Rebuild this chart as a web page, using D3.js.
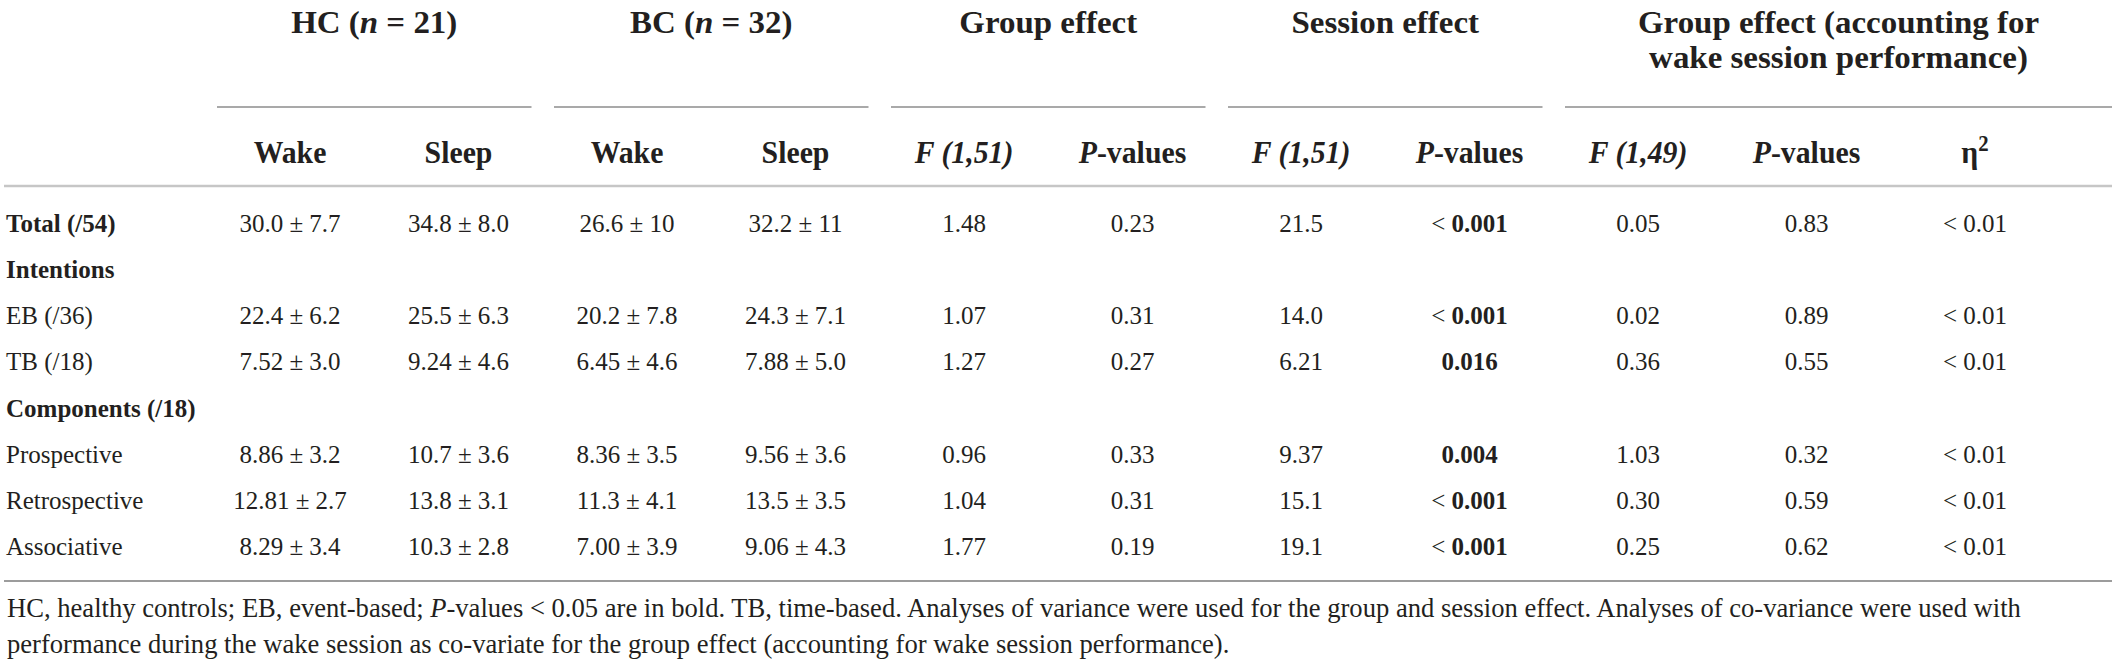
<!DOCTYPE html>
<meta charset="utf-8">
<style>
body { margin: 0; background: #fff; }
text {
  font-family: "Liberation Serif", "DejaVu Serif", serif;
  fill: #231f20;
}
.head { font-weight: bold; font-size: 32px; }
.cell { font-size: 25px; }
.note { font-size: 26.6px; }
</style>
<svg width="2117" height="665"></svg>
<script src="https://d3js.org/d3.v7.min.js"></script>
<script>

// column keys and their header labels (_x_ = italic, **x** = bold, ^x = superscript)
var columns = ["hcWake", "hcSleep", "bcWake", "bcSleep", "gF", "gP", "sF", "sP", "aF", "aP", "eta"];
var colLabels = ["Wake", "Sleep", "Wake", "Sleep", "_F (1,51)_", "_P_-values", "_F (1,51)_", "_P_-values", "_F (1,49)_", "_P_-values", "η^2"];

var groupLabels = [["HC (_n_ = 21)"], ["BC (_n_ = 32)"], ["Group effect"], ["Session effect"],
                   ["Group effect (accounting for", "wake session performance)"]];
var groupSpans = [[0, 1], [2, 3], [4, 5], [6, 7], [8, 10]];

var rowLabels = ["**Total (/54)**", "**Intentions**", "EB (/36)", "TB (/18)", "**Components (/18)**",
                 "Prospective", "Retrospective", "Associative"];

var hcWake  = ["30.0 ± 7.7", "", "22.4 ± 6.2", "7.52 ± 3.0", "", "8.86 ± 3.2", "12.81 ± 2.7", "8.29 ± 3.4"];
var hcSleep = ["34.8 ± 8.0", "", "25.5 ± 6.3", "9.24 ± 4.6", "", "10.7 ± 3.6", "13.8 ± 3.1", "10.3 ± 2.8"];
var bcWake  = ["26.6 ± 10", "", "20.2 ± 7.8", "6.45 ± 4.6", "", "8.36 ± 3.5", "11.3 ± 4.1", "7.00 ± 3.9"];
var bcSleep = ["32.2 ± 11", "", "24.3 ± 7.1", "7.88 ± 5.0", "", "9.56 ± 3.6", "13.5 ± 3.5", "9.06 ± 4.3"];
var groupF  = ["1.48", "", "1.07", "1.27", "", "0.96", "1.04", "1.77"];
var groupP  = ["0.23", "", "0.31", "0.27", "", "0.33", "0.31", "0.19"];
var sessF   = ["21.5", "", "14.0", "6.21", "", "9.37", "15.1", "19.1"];
var sessP   = ["< **0.001**", "", "< **0.001**", "**0.016**", "", "**0.004**", "< **0.001**", "< **0.001**"];
var adjF    = ["0.05", "", "0.02", "0.36", "", "1.03", "0.30", "0.25"];
var adjP    = ["0.83", "", "0.89", "0.55", "", "0.32", "0.59", "0.62"];
var eta2    = ["< 0.01", "", "< 0.01", "< 0.01", "", "< 0.01", "< 0.01", "< 0.01"];

var notes = [
  "HC, healthy controls; EB, event-based; _P_-values < 0.05 are in bold. TB, time-based. Analyses of variance were used for the group and session effect. Analyses of co-variance were used with",
  "performance during the wake session as co-variate for the group effect (accounting for wake session performance)."
];

var table = [hcWake, hcSleep, bcWake, bcSleep, groupF, groupP, sessF, sessP, adjF, adjP, eta2];

var svg = d3.select("svg");
var groupStretch = 1.03, colStretch = 0.93;

var x = d3.scalePoint().domain(columns).range([290, 1975]);
var y = d3.scalePoint().domain(d3.range(rowLabels.length)).range([232, 555]);
var half = 73, right = 2112;

// write a string with the little markup into a text element
function rich(sel, str, bold) {
  var parts = str.split(/(\*\*[^*]+\*\*|_[^_]+_|\^\d)/).filter(function(s) { return s.length; });
  parts.forEach(function(p) {
    var t = sel.append("tspan");
    if (p.startsWith("**")) t.text(p.slice(2, -2)).attr("font-weight", "bold");
    else if (p.startsWith("_")) t.text(p.slice(1, -1)).attr("font-style", "italic");
    else if (p.startsWith("^")) {
      t.text(p.slice(1)).attr("font-size", "0.7em").attr("dy", "-0.55em");
    } else t.text(p);
    if (bold) t.attr("font-weight", "bold");
  });
}

function label(g, px, py, str, cls, anchor, bold, sx) {
  var t = g.append("text")
      .attr("class", cls)
      .attr("text-anchor", anchor)
      .attr("transform", "translate(" + px + "," + py + ") scale(" + (sx || 1) + ",1)");
  rich(t, str, bold);
  return t;
}

var head = svg.append("g");

// spanning group headers and their rules
groupLabels.forEach(function(lines, i) {
  var last = groupSpans[i][1] == columns.length - 1;
  var x0 = x(columns[groupSpans[i][0]]) - half,
      x1 = last ? right : x(columns[groupSpans[i][1]]) + half;
  lines.forEach(function(l, k) {
    label(head, (x0 + x1) / 2, 33 + k * 35, l, "head", "middle", true, groupStretch);
  });
  head.append("line")
      .attr("x1", x0).attr("x2", x1)
      .attr("y1", 107).attr("y2", 107)
      .attr("stroke", "#8c8c8c").attr("stroke-width", 1.6);
});

columns.forEach(function(c, i) {
  label(head, x(c), 163, colLabels[i], "head", "middle", true, colStretch);
});

svg.append("line")
    .attr("x1", 4).attr("x2", right)
    .attr("y1", 186).attr("y2", 186)
    .attr("stroke", "#c6c6c6").attr("stroke-width", 2.6);

// body rows
var body = svg.append("g");
rowLabels.forEach(function(r, j) {
  label(body, 6, y(j), r, "cell", "start", false);
  table.forEach(function(col, i) {
    if (col[j]) label(body, x(columns[i]), y(j), col[j], "cell", "middle", false);
  });
});

svg.append("line")
    .attr("x1", 4).attr("x2", right)
    .attr("y1", 581).attr("y2", 581)
    .attr("stroke", "#9c9c9c").attr("stroke-width", 1.8);

notes.forEach(function(n, k) {
  label(svg, 7, 617 + k * 36, n, "note", "start", false);
});

</script>
